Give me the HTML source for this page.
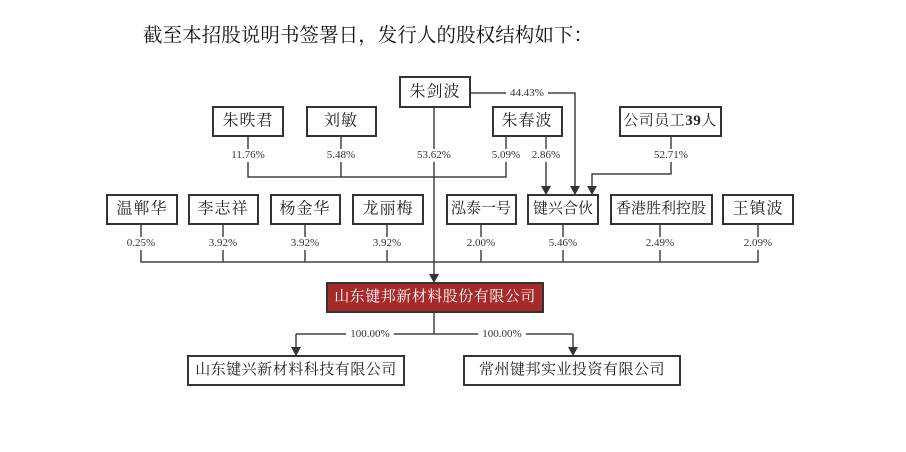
<!DOCTYPE html>
<html><head><meta charset="utf-8"><style>
html,body{margin:0;padding:0;background:#fff;width:906px;height:452px;overflow:hidden}
svg{display:block}
.b{fill:#fff;stroke:#333;stroke-width:2}
.t{font-family:"Liberation Serif","Noto Serif CJK SC",serif;font-size:16px;fill:#222;text-anchor:middle;dominant-baseline:central;letter-spacing:1px}
.s{font-size:15px;letter-spacing:0.5px}
.p{font-family:"Liberation Serif",serif;font-size:11px;fill:#333;text-anchor:middle;dominant-baseline:central}
.l{stroke:#444;stroke-width:1.5;fill:none}
.w{fill:#fff;stroke:none}
.ah{fill:#333}
</style></head><body>
<svg width="906" height="452" viewBox="0 0 906 452" xmlns="http://www.w3.org/2000/svg">
<text x="143" y="36" textLength="450" font-family="'Liberation Serif','Noto Serif CJK SC',serif" font-size="19.5" fill="#111" dominant-baseline="central">截至本招股说明书签署日，发行人的股权结构如下：</text>

<path class="l" d="M248 136V177H506V136M341 136V177"/>
<path class="l" d="M434 107V275"/>
<path class="l" d="M469 93H575V187"/>
<path class="l" d="M546 136V187"/>
<path class="l" d="M671 136V174H592V187"/>
<path class="l" d="M141 224V262H758V224M223 224V262M305 224V262M387 224V262M481 224V262M563 224V262M660 224V262"/>
<path class="l" d="M434 312V334M296 334H573M296 334V348M573 334V348"/>
<polygon class="ah" points="429,274 439,274 434,283"/>
<polygon class="ah" points="570,186 580,186 575,195"/>
<polygon class="ah" points="541,186 551,186 546,195"/>
<polygon class="ah" points="587,186 597,186 592,195"/>
<polygon class="ah" points="291,347 301,347 296,356"/>
<polygon class="ah" points="568,347 578,347 573,356"/>

<g>
<rect class="w" x="226" y="149" width="44" height="13"/><text class="p" x="248" y="155">11.76%</text>
<rect class="w" x="322" y="149" width="38" height="13"/><text class="p" x="341" y="155">5.48%</text>
<rect class="w" x="412" y="149" width="44" height="13"/><text class="p" x="434" y="155">53.62%</text>
<rect class="w" x="487" y="149" width="38" height="13"/><text class="p" x="506" y="155">5.09%</text>
<rect class="w" x="527" y="149" width="38" height="13"/><text class="p" x="546" y="155">2.86%</text>
<rect class="w" x="649" y="149" width="44" height="13"/><text class="p" x="671" y="155">52.71%</text>
<rect class="w" x="506" y="87" width="42" height="13"/><text class="p" x="527" y="93">44.43%</text>
<rect class="w" x="122" y="237" width="38" height="13"/><text class="p" x="141" y="243">0.25%</text>
<rect class="w" x="204" y="237" width="38" height="13"/><text class="p" x="223" y="243">3.92%</text>
<rect class="w" x="286" y="237" width="38" height="13"/><text class="p" x="305" y="243">3.92%</text>
<rect class="w" x="368" y="237" width="38" height="13"/><text class="p" x="387" y="243">3.92%</text>
<rect class="w" x="462" y="237" width="38" height="13"/><text class="p" x="481" y="243">2.00%</text>
<rect class="w" x="544" y="237" width="38" height="13"/><text class="p" x="563" y="243">5.46%</text>
<rect class="w" x="641" y="237" width="38" height="13"/><text class="p" x="660" y="243">2.49%</text>
<rect class="w" x="739" y="237" width="38" height="13"/><text class="p" x="758" y="243">2.09%</text>
<rect class="w" x="346" y="328" width="48" height="13"/><text class="p" x="370" y="334">100.00%</text>
<rect class="w" x="478" y="328" width="48" height="13"/><text class="p" x="502" y="334">100.00%</text>
</g>

<rect class="b" x="400" y="77" width="70" height="30"/><text class="t" x="435" y="92">朱剑波</text>
<rect class="b" x="213" y="107" width="70" height="29"/><text class="t" x="248" y="121">朱昳君</text>
<rect class="b" x="307" y="107" width="69" height="29"/><text class="t" x="341" y="121">刘敏</text>
<rect class="b" x="493" y="107" width="69" height="29"/><text class="t" x="527" y="121">朱春波</text>
<rect class="b" x="620" y="107" width="101" height="29"/><text class="t s" x="670" y="121">公司员工<tspan font-weight="bold">39</tspan>人</text>

<rect class="b" x="107" y="195" width="70" height="29"/><text class="t" x="142" y="209">温郸华</text>
<rect class="b" x="189" y="195" width="69" height="29"/><text class="t" x="223" y="209">李志祥</text>
<rect class="b" x="271" y="195" width="69" height="29"/><text class="t" x="305" y="209">杨金华</text>
<rect class="b" x="353" y="195" width="70" height="29"/><text class="t" x="388" y="209">龙丽梅</text>
<rect class="b" x="447" y="195" width="69" height="29"/><text class="t s" x="481" y="209" style="letter-spacing:0">泓泰一号</text>
<rect class="b" x="528" y="195" width="70" height="29"/><text class="t s" x="563" y="209" style="letter-spacing:0">键兴合伙</text>
<rect class="b" x="611" y="195" width="101" height="29"/><text class="t s" x="661" y="209" style="letter-spacing:0">香港胜利控股</text>
<rect class="b" x="723" y="195" width="70" height="29"/><text class="t" x="758" y="209">王镇波</text>

<rect x="327" y="283" width="216" height="29" fill="#a52a2a" stroke="#333" stroke-width="2"/><text class="t s" x="435" y="297" style="fill:#fff">山东键邦新材料股份有限公司</text>
<rect class="b" x="188" y="356" width="216" height="29"/><text class="t s" x="296" y="370">山东键兴新材料科技有限公司</text>
<rect class="b" x="464" y="356" width="216" height="29"/><text class="t s" x="572" y="370">常州键邦实业投资有限公司</text>
</svg>
</body></html>
